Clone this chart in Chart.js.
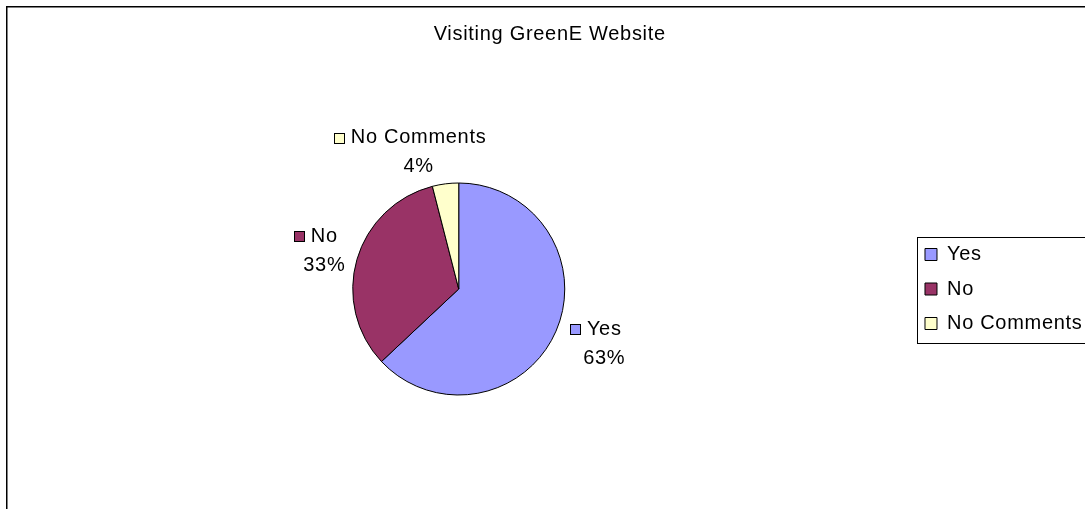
<!DOCTYPE html>
<html>
<head>
<meta charset="utf-8">
<title>Visiting GreenE Website</title>
<script src="https://cdn.jsdelivr.net/npm/chart.js@4/dist/chart.umd.min.js"></script>
<style>
  html, body { margin: 0; padding: 0; background: #ffffff; }
  #wrap { width: 1085px; height: 509px; }
</style>
</head>
<body>
<div id="wrap"><canvas id="chart" width="1085" height="509"></canvas></div>
<script>
// Survey answers and their shares (percent)
const categories = ['Yes', 'No', 'No Comments'];
const shares = [63, 33, 4];
const sliceColors = ['#9999FF', '#993366', '#FFFFCC'];
const titleText = 'Visiting GreenE Website';

const FONT = "'Liberation Sans', Arial, Helvetica, sans-serif";
const FONT_SIZE = 20;
const TEXT_SPACING = '0.7px';
const LABEL_GAP = 3;       // gap between the pie edge and a slice label block
const LABEL_LINE = 29;     // spacing between the two label lines
const KEY_SIZE = 10;       // small colour key in front of a slice label
const KEY_GAP = 7;

// Slightly wider letter spacing for all canvas text
const spacingPlugin = {
  id: 'textSpacing',
  beforeLayout(chart) { chart.ctx.letterSpacing = TEXT_SPACING; },
  beforeDraw(chart) { chart.ctx.letterSpacing = TEXT_SPACING; }
};

// White background and the outer frame of the chart
const framePlugin = {
  id: 'frame',
  beforeDraw(chart) {
    const ctx = chart.ctx;
    ctx.save();
    ctx.fillStyle = '#ffffff';
    ctx.fillRect(0, 0, chart.width, chart.height);
    ctx.strokeStyle = '#000000';
    ctx.lineWidth = 1.5;
    ctx.strokeRect(6.75, 6.75, chart.width + 20, chart.height + 20);
    ctx.restore();
  }
};

// Box drawn around the legend entries
const legendFramePlugin = {
  id: 'legendFrame',
  afterDraw(chart) {
    const boxes = chart.legend && chart.legend.legendHitBoxes;
    if (!boxes || !boxes.length) return;
    const first = boxes[0];
    const last = boxes[boxes.length - 1];
    const left = Math.round(first.left - 8) + 0.5;
    const top = Math.round(first.top - 8) + 0.5;
    const bottom = Math.round(last.top + last.height + 9) + 0.5;
    const ctx = chart.ctx;
    ctx.save();
    ctx.strokeStyle = '#000000';
    ctx.lineWidth = 1;
    ctx.strokeRect(left, top, chart.width - left + 10, bottom - top);
    ctx.restore();
  }
};

// Category name and percentage written outside each slice
const sliceLabelPlugin = {
  id: 'sliceLabels',
  afterDatasetsDraw(chart) {
    const ctx = chart.ctx;
    const meta = chart.getDatasetMeta(0);
    const ds = chart.data.datasets[0];
    ctx.save();
    ctx.font = FONT_SIZE + 'px ' + FONT;
    ctx.letterSpacing = TEXT_SPACING;
    ctx.textAlign = 'center';
    ctx.textBaseline = 'middle';
    meta.data.forEach((arc, i) => {
      const p = arc.getProps(['x', 'y', 'startAngle', 'endAngle', 'outerRadius'], true);
      const mid = (p.startAngle + p.endAngle) / 2;
      const dx = Math.cos(mid);
      const dy = Math.sin(mid);
      const name = chart.data.labels[i];
      const value = ds.data[i] + '%';
      const nameW = ctx.measureText(name).width;
      const textW = Math.max(nameW, ctx.measureText(value).width);
      // label block (key + text) pushed outward from the slice edge,
      // with an extra sideways shift towards its own side of the pie
      const blockW = KEY_SIZE + KEY_GAP + textW;
      const blockH = 2 * LABEL_LINE;
      const ax = p.x + dx * (p.outerRadius + LABEL_GAP);
      const ay = p.y + dy * (p.outerRadius + LABEL_GAP);
      const bx = ax + dx * blockW / 2 + Math.sign(dx) * blockW / 6;
      const by = ay + dy * blockH / 2;
      const tx = bx + (KEY_SIZE + KEY_GAP) / 2;
      const y1 = by - LABEL_LINE / 2;
      const y2 = by + LABEL_LINE / 2;
      ctx.fillStyle = '#000000';
      ctx.fillText(name, tx, y1);
      ctx.fillText(value, tx, y2);
      const kx = Math.round(tx - nameW / 2 - KEY_GAP - KEY_SIZE) + 0.5;
      const ky = Math.round(y1 - KEY_SIZE / 2) + 0.5;
      ctx.fillStyle = ds.backgroundColor[i];
      ctx.fillRect(kx, ky, KEY_SIZE, KEY_SIZE);
      ctx.strokeStyle = '#000000';
      ctx.lineWidth = 1;
      ctx.strokeRect(kx, ky, KEY_SIZE, KEY_SIZE);
    });
    ctx.restore();
  }
};

new Chart(document.getElementById('chart'), {
  type: 'pie',
  data: {
    labels: categories,
    datasets: [{
      data: shares,
      backgroundColor: sliceColors,
      borderColor: '#000000',
      borderWidth: 1,
      hoverOffset: 0,
      offset: 0,
      radius: 106
    }]
  },
  options: {
    responsive: false,
    animation: false,
    events: [],
    radius: 106,
    layout: { padding: { left: 7, right: -7.5, top: 0, bottom: 0 } },
    plugins: {
      title: {
        display: true,
        text: titleText,
        color: '#000000',
        font: { family: FONT, size: FONT_SIZE, weight: 'normal' },
        padding: { top: 22.5, bottom: 22.5 }
      },
      legend: {
        position: 'right',
        align: 'center',
        fullSize: false,
        labels: {
          color: '#000000',
          font: { family: FONT, size: FONT_SIZE },
          boxWidth: 12,
          boxHeight: 12,
          padding: 14.5
        }
      },
      tooltip: { enabled: false }
    }
  },
  plugins: [spacingPlugin, framePlugin, legendFramePlugin, sliceLabelPlugin]
});
</script>
</body>
</html>
